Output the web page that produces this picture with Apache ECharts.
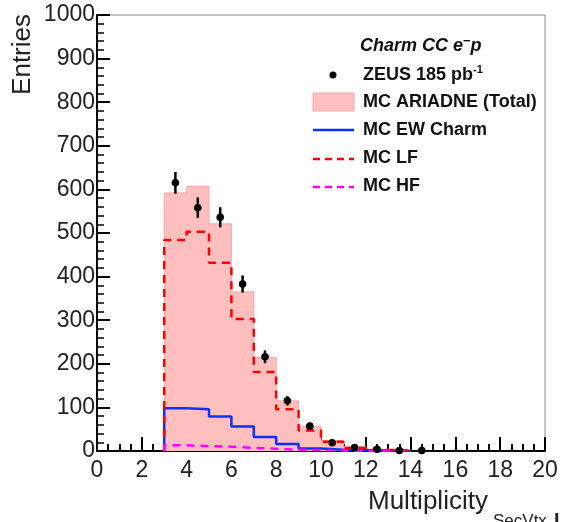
<!DOCTYPE html>
<html>
<head>
<meta charset="utf-8">
<title>Charm CC multiplicity</title>
<script src="https://cdn.jsdelivr.net/npm/echarts@6/dist/echarts.min.js"></script>
<style>
  html, body { margin: 0; padding: 0; background: #fff; }
  #chart { width: 566px; height: 522px; }
</style>
</head>
<body>
<div id="chart"></div>
<script>
// bin lower edges (width 1)
var binLow = [3, 4, 5, 6, 7, 8, 9, 10, 11, 12, 13];
// MC ARIADNE total, LF, EW charm, HF
var mcTotal = [592, 607, 521, 365, 215, 115, 57, 24, 10, 4, 1];
var mcLF    = [484, 503, 432, 303, 181, 96, 47, 21, 7, 3, 1];
var mcEW    = [98, 96, 79, 56, 32, 16, 6, 3, 2, 1, 0];
var mcHF    = [13, 11, 10, 7, 5, 3, 2, 1, 0, 0, 0];
// ZEUS data points (bin centres)
var dataX = [3.5, 4.5, 5.5, 6.5, 7.5, 8.5, 9.5, 10.5, 11.5, 12.5, 13.5, 14.5];
var dataY = [615, 558, 536, 383, 216, 115, 57, 19, 8, 4, 1, 1];

var FONT = '"Liberation Sans", Arial, Helvetica, sans-serif';

// step outline from bin contents
function stepPts(vals) {
  var p = [[binLow[0], 0]];
  for (var i = 0; i < vals.length; i++) p.push([binLow[i], vals[i]]);
  p.push([binLow[binLow.length - 1] + 1, 0]);
  return p;
}

var pts = [];
for (var i = 0; i < dataX.length; i++) pts.push([dataX[i], dataY[i], Math.sqrt(dataY[i])]);

var chart = echarts.init(document.getElementById('chart'));

var option = {
  animation: false,
  grid: {
    left: 97, right: 21, top: 15, bottom: 71,
    show: true, borderColor: '#8a8a8a', borderWidth: 1
  },
  xAxis: {
    type: 'value', min: 0, max: 20, interval: 2,
    axisLine: { lineStyle: { color: '#000', width: 2 } },
    axisTick: { inside: true, length: 14, lineStyle: { color: '#000', width: 2 } },
    minorTick: { show: true, splitNumber: 4, length: 7, lineStyle: { color: '#000', width: 2 } },
    splitLine: { show: false },
    axisLabel: { fontFamily: FONT, fontSize: 23, color: '#222', margin: 8 }
  },
  yAxis: {
    type: 'value', min: 0, max: 1000, interval: 100,
    axisLine: { lineStyle: { color: '#000', width: 2 } },
    axisTick: { inside: true, length: 13, lineStyle: { color: '#000', width: 2 } },
    minorTick: { show: true, splitNumber: 5, length: 7, lineStyle: { color: '#000', width: 1.5 } },
    splitLine: { show: false },
    axisLabel: { fontFamily: FONT, fontSize: 23, color: '#222', margin: 2,
                 formatter: function (v) { return String(v); } }
  },
  series: [
    {
      name: 'MC ARIADNE (Total)', type: 'line', step: 'end', symbol: 'none',
      data: stepPts(mcTotal), z: 1,
      lineStyle: { color: '#f7a8a8', width: 1 },
      areaStyle: { color: '#ffbfbf', opacity: 1 }
    },
    {
      name: 'MC EW Charm', type: 'line', step: 'end', symbol: 'none',
      data: stepPts(mcEW), z: 3,
      lineStyle: { color: '#0b2fff', width: 2.5 }
    },
    {
      name: 'MC LF', type: 'line', step: 'end', symbol: 'none',
      data: stepPts(mcLF), z: 4,
      lineStyle: { color: '#ff0000', width: 2.5, type: [8, 6] }
    },
    {
      name: 'MC HF', type: 'line', step: 'end', symbol: 'none',
      data: stepPts(mcHF), z: 4,
      lineStyle: { color: '#ff00ff', width: 2.5, type: [8, 6] }
    },
    {
      name: 'ZEUS 185 pb-1', type: 'custom', z: 6, clip: false,
      data: pts,
      renderItem: function (params, api) {
        var c = api.coord([api.value(0), api.value(1)]);
        var lo = api.coord([api.value(0), api.value(1) - api.value(2)]);
        var hi = api.coord([api.value(0), api.value(1) + api.value(2)]);
        return {
          type: 'group',
          children: [
            { type: 'line', shape: { x1: c[0], y1: lo[1], x2: c[0], y2: hi[1] },
              style: { stroke: '#000', lineWidth: 2.5 } },
            { type: 'circle', shape: { cx: c[0], cy: c[1], r: 3.8 },
              style: { fill: '#000' } }
          ]
        };
      }
    }
  ],
  graphic: [
    // axis titles
    { type: 'text', x: 23, y: 14, rotation: Math.PI / 2,
      style: { text: 'Entries', fontFamily: FONT, fontSize: 26, fill: '#222', align: 'right', verticalAlign: 'middle' } },
    { type: 'text', x: 368, y: 489,
      style: { text: 'Multiplicity', fontFamily: FONT, fontSize: 26, fill: '#222', align: 'left', verticalAlign: 'top' } },
    { type: 'text', x: 493, y: 513,
      style: { text: 'SecVtx', fontFamily: FONT, fontSize: 17, fill: '#222', align: 'left', verticalAlign: 'top' } },
    { type: 'text', x: 554, y: 511,
      style: { text: 'I', fontFamily: FONT, fontSize: 20, fontWeight: 'bold', fill: '#222', align: 'left', verticalAlign: 'top' } },
    // legend
    { type: 'text', x: 360, y: 46,
      style: { text: 'Charm CC e{s|\u2212}p', fontFamily: FONT, fontSize: 18, fontWeight: 'bold', fontStyle: 'italic',
               fill: '#111', align: 'left', verticalAlign: 'middle',
               rich: { s: { fontFamily: FONT, fontSize: 13, fontWeight: 'bold', padding: [0, 0, 10, 0] } } } },
    { type: 'circle', shape: { cx: 333, cy: 75, r: 3.5 }, style: { fill: '#000' } },
    { type: 'text', x: 363, y: 75,
      style: { text: 'ZEUS 185 pb{s|-1}', fontFamily: FONT, fontSize: 18, fontWeight: 'bold',
               fill: '#111', align: 'left', verticalAlign: 'middle',
               rich: { s: { fontFamily: FONT, fontSize: 11, fontWeight: 'bold', padding: [0, 0, 11, 0] } } } },
    { type: 'rect', shape: { x: 313, y: 93, width: 41, height: 18 }, style: { fill: '#ffbfbf', stroke: '#f7a8a8', lineWidth: 1 } },
    { type: 'text', x: 363, y: 102,
      style: { text: 'MC ARIADNE (Total)', fontFamily: FONT, fontSize: 18, fontWeight: 'bold', fill: '#111', align: 'left', verticalAlign: 'middle' } },
    { type: 'line', shape: { x1: 313, y1: 130, x2: 354, y2: 130 }, style: { stroke: '#0b2fff', lineWidth: 2.5 } },
    { type: 'text', x: 363, y: 130,
      style: { text: 'MC EW Charm', fontFamily: FONT, fontSize: 18, fontWeight: 'bold', fill: '#111', align: 'left', verticalAlign: 'middle' } },
    { type: 'line', shape: { x1: 313, y1: 159, x2: 354, y2: 159 }, style: { stroke: '#ff0000', lineWidth: 2.5, lineDash: [7, 5] } },
    { type: 'text', x: 363, y: 158,
      style: { text: 'MC LF', fontFamily: FONT, fontSize: 18, fontWeight: 'bold', fill: '#111', align: 'left', verticalAlign: 'middle' } },
    { type: 'line', shape: { x1: 313, y1: 187, x2: 354, y2: 187 }, style: { stroke: '#ff00ff', lineWidth: 2.5, lineDash: [7, 5] } },
    { type: 'text', x: 363, y: 186,
      style: { text: 'MC HF', fontFamily: FONT, fontSize: 18, fontWeight: 'bold', fill: '#111', align: 'left', verticalAlign: 'middle' } }
  ]
};

chart.setOption(option);
</script>
</body>
</html>
